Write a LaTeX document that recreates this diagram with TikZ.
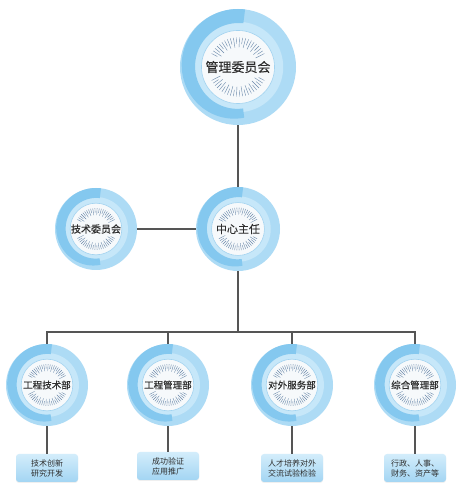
\documentclass[tikz,border=0pt]{standalone}
\usepackage{fontspec}
\setmainfont{Noto Sans CJK SC}
\newfontfamily\labelfont[FakeBold=0.5]{Noto Sans CJK SC}
\usetikzlibrary{shadows}
\definecolor{ringbase}{HTML}{ADDBF5}
\definecolor{ringinner}{HTML}{C6E7F9}
\definecolor{ringdark}{HTML}{84C8EF}
\definecolor{discfill}{HTML}{F6F9FB}
\definecolor{discline}{HTML}{A2D3F0}
\definecolor{tickcol}{HTML}{6A88AA}
\definecolor{txt}{HTML}{2E2E2E}
\definecolor{linecol}{HTML}{555555}
\definecolor{boxtop}{HTML}{D3EDFB}
\definecolor{boxbot}{HTML}{A3D5F3}
\newcommand\orgcirc[6]{%
  \fill[ringbase] (#2,#3) circle[radius=#4];
  \fill[ringinner] (#2,#3) circle[radius={0.78*#4}];
  \fill[ringdark] plot[domain=83:277,samples=70,variable=\t]
     ({#2+#4*(1-0.12*((\t-83)/194)^2)*cos(\t)},{#3+#4*(1-0.12*((\t-83)/194)^2)*sin(\t)})
     -- plot[domain=277:83,samples=70,variable=\t]
     ({#2+#4*(0.76-0.04*(\t-83)/194)*cos(\t)},{#3+#4*(0.76-0.04*(\t-83)/194)*sin(\t)})
     -- cycle;
  \filldraw[fill=discfill,draw=discline,line width=0.6pt] (#2,#3) circle[radius={0.63*#4}];
  \foreach \a [count=\i] in {27,33,...,153,207,213,...,333}{%
    \pgfmathsetmacro\rin{ifthenelse(isodd(\i),0.34,0.40)}%
    \draw[tickmark] ([shift={(\a:{\rin*#4})}]#2,#3) -- ([shift={(\a:{0.51*#4})}]#2,#3);
  }
  \node[circle,minimum size=#4*2pt,inner sep=0pt,text=txt,font=\labelfont\fontsize{#5}{#5}\selectfont] (#1) at (#2,#3) {#6};
}
\begin{document}
\begin{tikzpicture}[x=1pt,y=1pt,
  tickmark/.style={draw=tickcol,line width=0.4pt},
  conn/.style={draw=linecol,line width=1.2pt},
  descbox/.style={rounded corners=3pt,top color=boxtop,bottom color=boxbot,draw=none,
    minimum width=62pt,minimum height=28pt,inner sep=1pt,align=center,text=txt,
    font=\fontsize{8}{10}\selectfont,drop shadow={opacity=0.12,shadow xshift=0pt,shadow yshift=-1pt}}]
\useasboundingbox (0,0) rectangle (469,496);
\fill[white] (0,0) rectangle (469,496);
\coordinate (j) at (238,164);
\orgcirc{top}{238}{429}{58}{13}{管理委员会}
\orgcirc{ctr}{238}{267}{42}{11}{中心主任}
\orgcirc{tech}{96}{267}{41}{10}{技术委员会}
\orgcirc{b1}{47}{111}{41}{9.5}{工程技术部}
\orgcirc{b2}{168}{111}{41}{9.5}{工程管理部}
\orgcirc{b3}{292}{111}{41}{9.5}{对外服务部}
\orgcirc{b4}{415}{111}{41}{9.5}{综合管理部}
\node[descbox] (d1) at (47,28) {技术创新\\研究开发};
\node[descbox] (d2) at (168,30) {成功验证\\应用推广};
\node[descbox] (d3) at (292,28) {人才培养对外\\交流试验检验};
\node[descbox] (d4) at (415,28) {行政、人事、\\财务、资产等};
\draw[conn] (top.south) -- (ctr.north);
\draw[conn] (tech.east) -- (ctr.west);
\draw[conn] (ctr.south) -- (j);
\draw[conn] (b1.north) -- (b1.north |- j) -- (b4.north |- j) -- (b4.north);
\draw[conn] (b2.north) -- (b2.north |- j);
\draw[conn] (b3.north) -- (b3.north |- j);
\draw[conn] (b1.south) -- (d1.north);
\draw[conn] (b2.south) -- (d2.north);
\draw[conn] (b3.south) -- (d3.north);
\draw[conn] (b4.south) -- (d4.north);
\end{tikzpicture}
\end{document}
